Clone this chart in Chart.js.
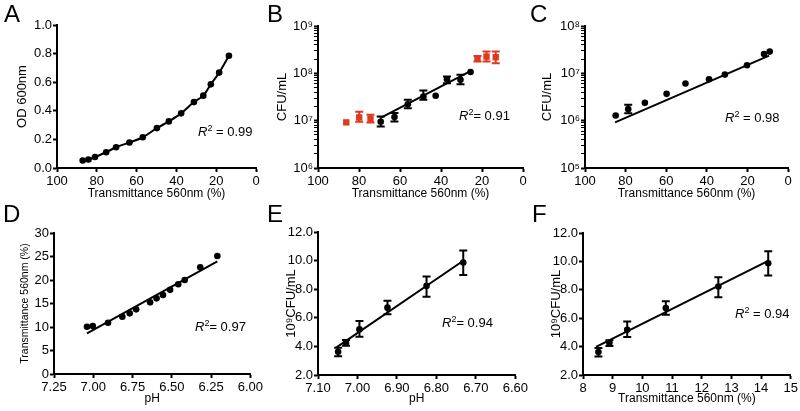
<!DOCTYPE html>
<html>
<head>
<meta charset="utf-8">
<script src="https://cdn.jsdelivr.net/npm/chart.js@4"></script>
<style>
  body { margin: 0; background: #fff; width: 800px; height: 411px; position: relative; overflow: hidden;
         font-family: "Liberation Sans", Arial, sans-serif; }
  .box { position: absolute; }
  .lbl { position: absolute; font-size: 24px; line-height: 24px; color: #000; z-index: 5; }
  .r2 { position: absolute; font-size: 13px; line-height: 13px; white-space: nowrap; color: #000; z-index: 5; }
  .r2 sup { font-size: 9px; vertical-align: 0; position: relative; top: -5px; }
</style>
</head>
<body>
<div class="box" style="left:0;top:0;width:265px;height:205px"><canvas id="chartA"></canvas></div>
<div class="box" style="left:265px;top:0;width:265px;height:205px"><canvas id="chartB"></canvas></div>
<div class="box" style="left:530px;top:0;width:270px;height:205px"><canvas id="chartC"></canvas></div>
<div class="box" style="left:0;top:200px;width:265px;height:211px"><canvas id="chartD"></canvas></div>
<div class="box" style="left:265px;top:200px;width:265px;height:211px"><canvas id="chartE"></canvas></div>
<div class="box" style="left:530px;top:200px;width:270px;height:211px"><canvas id="chartF"></canvas></div>

<div class="lbl" style="left:4px;top:2px">A</div>
<div class="lbl" style="left:267px;top:2px">B</div>
<div class="lbl" style="left:530px;top:2px">C</div>
<div class="lbl" style="left:3px;top:202px">D</div>
<div class="lbl" style="left:267px;top:202px">E</div>
<div class="lbl" style="left:532px;top:202px">F</div>

<div class="r2" style="left:198px;top:125px"><i>R</i><sup>2</sup> = 0.99</div>
<div class="r2" style="left:459px;top:109px"><i>R</i><sup>2</sup>= 0.91</div>
<div class="r2" style="left:725px;top:111px"><i>R</i><sup>2</sup> = 0.98</div>
<div class="r2" style="left:195px;top:320px"><i>R</i><sup>2</sup>= 0.97</div>
<div class="r2" style="left:442px;top:316px"><i>R</i><sup>2</sup>= 0.94</div>
<div class="r2" style="left:735px;top:307px"><i>R</i><sup>2</sup> = 0.94</div>

<script>
/* panel A : OD vs transmittance */
const aTrans = [87.1, 84.2, 80.9, 75.3, 70.3, 63.6, 56.9, 49.8, 43.8, 37.6, 31.2, 26.5, 22.7, 18.5, 13.6];
const aOD = [0.052, 0.059, 0.077, 0.110, 0.145, 0.178, 0.215, 0.279, 0.326, 0.382, 0.461, 0.506, 0.585, 0.667, 0.785];

/* panel B : CFU vs transmittance (black = fitted, red = excluded) */
const bTrans = [69.4, 62.7, 56.2, 48.6, 42.6, 37.1, 30.5, 25.6];
const bCfu = [9.5e6, 1.19e7, 2.23e7, 3.24e7, 3.35e7, 7.5e7, 7.3e7, 1.07e8];
const bLo = [7.55e6, 9.6e6, 1.84e7, 2.76e7, null, 6.2e7, 5.9e7, null];
const bHi = [1.23e7, 1.45e7, 2.76e7, 4.34e7, null, 8.57e7, 9.3e7, null];
const bRedTrans = [86.2, 79.9, 74.4, 22.2, 17.8, 13.3];
const bRedCfu = [9.2e6, 1.17e7, 1.10e7, 2.02e8, 2.26e8, 2.19e8];
const bRedLo = [null, 9.5e6, 9.2e6, 1.77e8, 1.77e8, 1.64e8];
const bRedHi = [null, 1.54e7, 1.33e7, 2.33e8, 2.88e8, 2.88e8];
const bFitX = [69.7, 25.4];
const bFitY = [1.13e7, 1.13e8];

/* panel C */
const cTrans = [84.9, 78.7, 70.5, 59.8, 50.5, 38.9, 31.1, 20.2, 11.8, 9.0];
const cCfu = [1.29e6, 1.75e6, 2.38e6, 3.69e6, 6.1e6, 7.5e6, 9.4e6, 1.48e7, 2.57e7, 2.88e7];
const cLo = [null, 1.44e6, null, null, null, null, null, null, null, null];
const cHi = [null, 2.16e6, null, null, null, null, null, null, null, null];
const cFitX = [85.2, 9.3];
const cFitY = [9.2e5, 2.37e7];

/* panel D : transmittance vs pH */
const dPH = [7.040, 7.003, 6.906, 6.815, 6.768, 6.727, 6.638, 6.597, 6.556, 6.511, 6.459, 6.418, 6.319, 6.210];
const dTrans = [10.05, 10.19, 10.9, 12.19, 12.9, 13.76, 15.25, 16.1, 16.8, 17.9, 19.1, 20.0, 22.7, 25.1];
const dFitX = [7.040, 6.210];
const dFitY = [8.62, 23.95];

/* panels E and F : 10^9 CFU/mL */
const ePH = [7.049, 7.029, 6.995, 6.924, 6.825, 6.732];
const fTrans = [8.52, 8.89, 9.49, 10.79, 12.56, 14.24];
const cfu9 = [3.62, 4.25, 5.19, 6.71, 8.23, 9.87];
const cfu9Lo = [3.31, 4.04, 4.67, 6.24, 7.48, 9.00];
const cfu9Hi = [3.90, 4.44, 5.77, 7.20, 8.89, 10.71];
const eFitX = [7.055, 6.732];
const eFitY = [3.90, 9.99];
const fFitX = [8.44, 14.24];
const fFitY = [3.98, 10.04];

const FONT = '"Liberation Sans", Arial, sans-serif';
const RED = '#e0391f';
const sup = {'0':'⁰','1':'¹','2':'²','3':'³','4':'⁴','5':'⁵','6':'⁶','7':'⁷','8':'⁸','9':'⁹'};

const pts = (xs, ys) => xs.map((x, i) => ({ x: x, y: ys[i] }));
const isPow10 = v => { const e = Math.log10(v); return Math.abs(e - Math.round(e)) < 1e-9; };

// minor + major tick positions for a log axis
function logTicks(e0, e1) {
  const out = [];
  for (let e = e0; e < e1; e++) {
    for (let m = 1; m < 10; m++) out.push(m * Math.pow(10, e));
  }
  out.push(Math.pow(10, e1));
  return out;
}

const errorBars = {
  id: 'errorBars',
  afterDatasetsDraw(chart) {
    const ctx = chart.ctx;
    const xs = chart.scales.x, ys = chart.scales.y;
    chart.data.datasets.forEach(ds => {
      if (!ds.errLo) return;
      ctx.save();
      ctx.strokeStyle = ds.borderColor;
      ctx.lineWidth = 2;
      ds.data.forEach((p, j) => {
        if (ds.errLo[j] == null) return;
        const x = xs.getPixelForValue(p.x);
        const y1 = ys.getPixelForValue(ds.errLo[j]);
        const y2 = ys.getPixelForValue(ds.errHi[j]);
        ctx.beginPath();
        ctx.moveTo(x, y1); ctx.lineTo(x, y2);
        ctx.moveTo(x - 4, y1); ctx.lineTo(x + 4, y1);
        ctx.moveTo(x - 4, y2); ctx.lineTo(x + 4, y2);
        ctx.stroke();
      });
      ctx.restore();
    });
  }
};

function xAxis(o) {
  return {
    type: 'linear', position: 'bottom', min: o.min, max: o.max, reverse: !!o.reverse,
    ticks: { stepSize: o.step, autoSkip: false, maxRotation: 0, color: '#000', padding: 2,
             font: { family: FONT, size: 13 }, callback: v => v.toFixed(o.dec) },
    grid: { drawOnChartArea: false, drawTicks: true, tickLength: 4, tickColor: '#000', tickWidth: 2 },
    border: { color: '#000', width: 2 },
    title: { display: true, text: o.title, color: '#000', font: { family: FONT, size: 12 }, padding: { top: 4, bottom: 4 } },
    afterFit: s => { s.height = o.h; }
  };
}

function yAxis(o) {
  const ax = {
    type: o.log ? 'logarithmic' : 'linear', position: 'left', min: o.min, max: o.max,
    ticks: { autoSkip: false, color: '#000', padding: 1, font: { family: FONT, size: 13 } },
    grid: { drawOnChartArea: false, drawTicks: true, tickLength: 4, tickColor: '#000', tickWidth: 2 },
    border: { color: '#000', width: 2 },
    title: { display: true, text: o.title, color: '#000', font: { family: FONT, size: o.titleSize || 13 }, padding: { top: 4, bottom: 4 } },
    afterFit: s => { s.width = o.w; }
  };
  if (o.log) {
    ax.afterBuildTicks = s => { s.ticks = logTicks(o.e0, o.e1).map(v => ({ value: v })); };
    ax.ticks.callback = v => isPow10(v) ? '10' + String(Math.round(Math.log10(v))).split('').map(c => sup[c]).join('') : '';
    ax.grid.tickWidth = c => (c.tick && isPow10(c.tick.value)) ? 2 : 1;
    ax.grid.tickLength = 4;
  } else {
    ax.ticks.stepSize = o.step;
    ax.ticks.callback = v => v.toFixed(o.dec);
  }
  return ax;
}

function dots(xs, ys, extra) {
  return Object.assign({ data: pts(xs, ys), backgroundColor: '#000', borderColor: '#000',
    pointRadius: 3.3, pointHoverRadius: 3.3, pointBorderWidth: 0, showLine: false }, extra || {});
}

function fitLine(xs, ys) {
  return { data: pts(xs, ys), showLine: true, borderColor: '#000', borderWidth: 2, pointRadius: 0, pointHoverRadius: 0 };
}

function makeChart(id, pad, xs, ys, datasets) {
  return new Chart(document.getElementById(id).getContext('2d'), {
    type: 'scatter',
    data: { datasets: datasets },
    options: {
      responsive: true, maintainAspectRatio: false, animation: false,
      layout: { padding: pad },
      plugins: { legend: { display: false }, tooltip: { enabled: false } },
      scales: { x: xs, y: ys }
    },
    plugins: [errorBars]
  });
}

makeChart('chartA', { left: 11, right: 9, top: 25, bottom: 0 },
  xAxis({ min: 0, max: 100, step: 20, dec: 0, reverse: true, title: 'Transmittance 560nm (%)', h: 37 }),
  yAxis({ min: 0, max: 1, step: 0.2, dec: 1, title: 'OD 600nm', w: 46 }),
  [dots(aTrans, aOD, { showLine: true, borderWidth: 2, cubicInterpolationMode: 'monotone' })]);

makeChart('chartB', { left: 6, right: 7, top: 26, bottom: 0 },
  xAxis({ min: 0, max: 100, step: 20, dec: 0, reverse: true, title: 'Transmittance 560nm (%)', h: 37 }),
  yAxis({ log: true, min: 1e6, max: 1e9, e0: 6, e1: 9, title: 'CFU/mL', w: 47 }),
  [fitLine(bFitX, bFitY),
   dots(bTrans, bCfu, { errLo: bLo, errHi: bHi }),
   dots(bRedTrans, bRedCfu, { backgroundColor: RED, borderColor: RED, pointStyle: 'rect', pointRadius: 4.5, pointHoverRadius: 4.5, errLo: bRedLo, errHi: bRedHi })]);

makeChart('chartC', { left: 6, right: 12, top: 26, bottom: 0 },
  xAxis({ min: 0, max: 100, step: 20, dec: 0, reverse: true, title: 'Transmittance 560nm (%)', h: 37 }),
  yAxis({ log: true, min: 1e5, max: 1e8, e0: 5, e1: 8, title: 'CFU/mL', w: 49 }),
  [fitLine(cFitX, cFitY), dots(cTrans, cCfu, { errLo: cLo, errHi: cHi })]);

makeChart('chartD', { left: 15, right: 8, top: 33, bottom: 1 },
  xAxis({ min: 6, max: 7.25, step: 0.25, dec: 2, reverse: true, title: 'pH', h: 36 }),
  yAxis({ min: 0, max: 30, step: 5, dec: 0, title: 'Transmittance 560nm (%)', titleSize: 10.5, w: 39 }),
  [fitLine(dFitX, dFitY), dots(dPH, dTrans)]);

makeChart('chartE', { left: 15, right: 8, top: 32, bottom: 1 },
  xAxis({ min: 6.6, max: 7.1, step: 0.1, dec: 2, reverse: true, title: 'pH', h: 35 }),
  yAxis({ min: 2, max: 12, step: 2, dec: 1, title: '10⁹CFU/mL', w: 38 }),
  [fitLine(eFitX, eFitY), dots(ePH, cfu9, { errLo: cfu9Lo, errHi: cfu9Hi })]);

makeChart('chartF', { left: 15, right: 7, top: 33, bottom: 1 },
  xAxis({ min: 8, max: 15, step: 1, dec: 0, title: 'Transmittance 560nm (%)', h: 35 }),
  yAxis({ min: 2, max: 12, step: 2, dec: 1, title: '10⁹CFU/mL', w: 38 }),
  [fitLine(fFitX, fFitY), dots(fTrans, cfu9, { errLo: cfu9Lo, errHi: cfu9Hi })]);
</script>
</body>
</html>
